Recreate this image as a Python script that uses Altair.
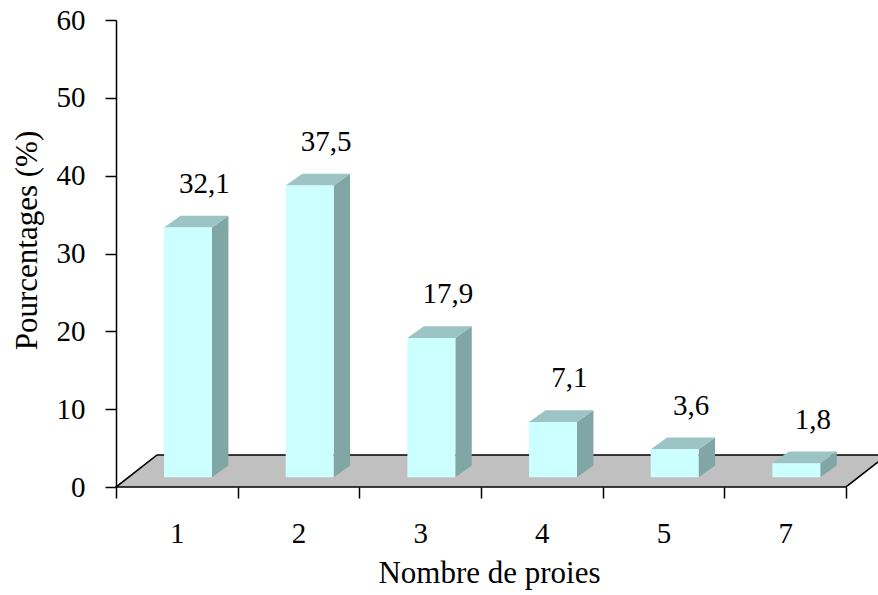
import altair as alt
import pandas as pd

# Nombre de proies par individu et pourcentages correspondants
categories = ["1", "2", "3", "4", "5", "7"]
percentages = [32.1, 37.5, 17.9, 7.1, 3.6, 1.8]
y_ticks = [0, 10, 20, 30, 40, 50, 60]

# Oblique-projection geometry: x in category units, y in percentage points
BASE = 1.25                 # bars stand slightly behind the floor's front edge
FRONT_L, FRONT_R = -0.105, 0.289
BAR_DX, BAR_DY = 0.135, 1.5
FLOOR_DX, FLOOR_DY = 0.337, 4.12

FONT = "Liberation Serif"
W, H = 762, 467
n = len(categories)
px_per_cat = 730 / n

x_scale = alt.Scale(domain=[0.5, 0.5 + W / px_per_cat], nice=False, zero=False)
y_scale = alt.Scale(domain=[0, 60], nice=False, zero=False)

label_expr = "[" + ",".join("'%s'" % c for c in categories) + ",''][round(datum.value - 0.5)]"
x_axis = alt.Axis(
    values=[i + 0.5 for i in range(n + 1)],
    labelExpr=label_expr,
    labelOffset=px_per_cat / 2,
    labelFont=FONT, labelFontSize=29, labelColor="black", labelPadding=21,
    labelFlush=False, labelOverlap=False,
    domain=False, grid=False,
    ticks=True, tickSize=11, tickColor="black", tickWidth=1.5,
    title="Nombre de proies", titleFont=FONT, titleFontSize=31,
    titleFontWeight="normal", titleColor="black",
    titleX=373, titleY=95, titleBaseline="alphabetic", titleAlign="center",
)
y_axis = alt.Axis(
    values=y_ticks,
    labelFont=FONT, labelFontSize=29, labelColor="black", labelPadding=20,
    labelBaseline="middle",
    domain=True, domainColor="black", domainWidth=1.5,
    grid=False, ticks=True, tickSize=11, tickColor="black", tickWidth=1.5,
    title="Pourcentages (%)", titleFont=FONT, titleFontSize=31,
    titleFontWeight="normal", titleColor="black",
    titleX=-89, titleY=220, titleAngle=-90, titleAlign="center",
    titleBaseline="middle",
)

# Floor parallelogram
floor = pd.DataFrame({
    "x": [0.5, 0.5 + FLOOR_DX, n + 0.5, n + 0.5 + FLOOR_DX],
    "lo": [0, 0, 0, FLOOR_DY],
    "hi": [0, FLOOR_DY, FLOOR_DY, FLOOR_DY],
})

front_rows, side_rows, top_rows, label_rows = [], [], [], []
for i, (cat, v) in enumerate(zip(categories, percentages), start=1):
    xl, xr = i + FRONT_L, i + FRONT_R
    t = BASE + v
    front_rows.append({"cat": cat, "x": xl, "x2": xr, "y": BASE, "y2": t})
    side_rows += [
        {"cat": cat, "x": xr, "lo": BASE, "hi": t},
        {"cat": cat, "x": xr + BAR_DX, "lo": BASE + BAR_DY, "hi": t + BAR_DY},
    ]
    top_rows += [
        {"cat": cat, "x": xl, "lo": t, "hi": t},
        {"cat": cat, "x": xl + BAR_DX, "lo": t, "hi": t + BAR_DY},
        {"cat": cat, "x": xr, "lo": t, "hi": t + BAR_DY},
        {"cat": cat, "x": xr + BAR_DX, "lo": t + BAR_DY, "hi": t + BAR_DY},
    ]
    label_rows.append({
        "cat": cat,
        "x": (xl + xr) / 2 + BAR_DX,
        "y": t + BAR_DY,
        "label": ("%.1f" % v).replace(".", ","),
    })

front = pd.DataFrame(front_rows)
side = pd.DataFrame(side_rows)
top = pd.DataFrame(top_rows)
labels = pd.DataFrame(label_rows)

X = lambda f="x": alt.X(f"{f}:Q", scale=x_scale, axis=x_axis)
Y = lambda f: alt.Y(f"{f}:Q", scale=y_scale, axis=y_axis, stack=None)

floor_layer = alt.Chart(floor).mark_area(
    color="#C0C0C0", stroke="black", strokeWidth=1.6, opacity=1
).encode(x=X(), y=Y("lo"), y2="hi")

side_layer = alt.Chart(side).mark_area(color="#80A6A6", opacity=1).encode(
    x=X(), y=Y("lo"), y2="hi", detail="cat:N"
)
top_layer = alt.Chart(top).mark_area(color="#9CC4C4", opacity=1).encode(
    x=X(), y=Y("lo"), y2="hi", detail="cat:N"
)
front_layer = alt.Chart(front).mark_rect(color="#CCFFFF").encode(
    x=X(), x2="x2", y=Y("y"), y2="y2"
)
label_layer = alt.Chart(labels).mark_text(
    font=FONT, fontSize=29, color="black", baseline="alphabetic",
    align="center", dy=-23
).encode(x=X(), y=Y("y"), text="label:N")

chart = alt.layer(
    floor_layer, side_layer, top_layer, front_layer, label_layer
).properties(
    width=W, height=H,
    autosize=alt.AutoSizeParams(type="none"),
    padding={"left": 116, "top": 20, "right": 0, "bottom": 108},
    background="white",
).configure_view(stroke=None)

chart.save("out.html", embed_options={"renderer": "svg", "actions": False})
